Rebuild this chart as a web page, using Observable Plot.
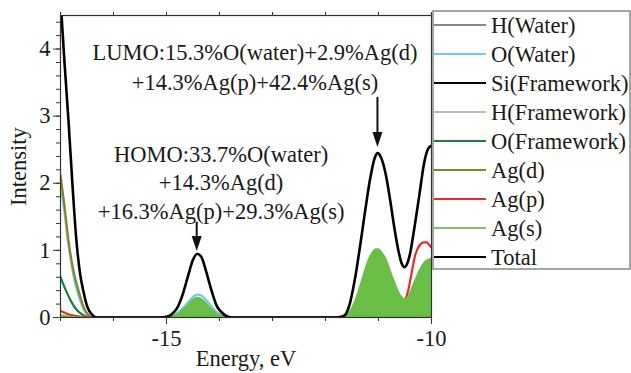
<!DOCTYPE html>
<html>
<head>
<meta charset="utf-8">
<script src="https://cdn.jsdelivr.net/npm/d3@7"></script>
<script src="https://cdn.jsdelivr.net/npm/@observablehq/plot@0.6"></script>
<style>
  html, body { margin: 0; padding: 0; background: #fff; }
  #chart { width: 631px; height: 373px; overflow: hidden; }
</style>
</head>
<body>
<div id="chart"></div>
<script>
// ---------------- data ----------------
const seriesNames = ["H(Water)", "O(Water)", "Si(Framework)", "H(Framework)", "O(Framework)", "Ag(d)", "Ag(p)", "Ag(s)", "Total"];

const hWaterE = [-17, -16.5, -10];            const hWater = [0, 0, 0];
const siFrameE = [-17, -16.5, -10];           const siFrame = [0, 0, 0];
const hFrameE = [-17, -16.5, -10];            const hFrame = [0, 0, 0];

const oWaterE = [-17.0, -16.93, -16.85, -16.75, -16.66, -16.55, -16.45, -16.35,
  -15.05, -14.95, -14.85, -14.75, -14.65, -14.55, -14.48, -14.42, -14.35, -14.25, -14.15, -14.05, -13.95, -13.85, -13.8,
  -11.7, -11.3, -11.02, -10.75, -10.5, -10.2, -10.0];
const oWater = [2.0, 1.6, 1.08, 0.6, 0.33, 0.1, 0.02, 0,
  0, 0.012, 0.035, 0.095, 0.175, 0.265, 0.32, 0.34, 0.33, 0.26, 0.165, 0.08, 0.03, 0.006, 0,
  0, 0.2, 0.37, 0.25, 0.1, 0.3, 0.35];

const oFrameE = [-17.0, -16.95, -16.88, -16.8, -16.7, -16.6, -16.5, -16.42, -10.0];
const oFrame = [0.6, 0.5, 0.37, 0.24, 0.12, 0.05, 0.01, 0, 0];

const agDE = [-17.0, -16.93, -16.85, -16.75, -16.66, -16.55, -16.45, -16.38,
  -15.0, -14.7, -14.42, -14.15, -13.85, -11.7, -11.0, -10.5, -10.0];
const agD = [2.12, 1.7, 1.15, 0.68, 0.4, 0.13, 0.02, 0,
  0, 0.05, 0.13, 0.05, 0, 0, 0.07, 0.03, 0.05];

const agPE = [-17.0, -16.92, -16.82, -16.7, -16.55, -16.45,
  -15.0, -14.7, -14.42, -14.15, -13.85,
  -11.8, -11.5, -11.2, -11.0, -10.8, -10.6, -10.5, -10.44, -10.39, -10.30, -10.22, -10.15, -10.09, -10.04, -10.0];
const agP = [0.1, 0.07, 0.04, 0.02, 0.005, 0,
  0, 0.06, 0.15, 0.06, 0,
  0, 0.08, 0.2, 0.25, 0.22, 0.22, 0.27, 0.4, 0.6, 0.95, 1.08, 1.12, 1.12, 1.08, 1.04];

const agSE = [-17.0, -16.9, -16.8, -16.7, -16.55, -16.45,
  -15.05, -14.95, -14.85, -14.75, -14.65, -14.55, -14.48, -14.42, -14.35, -14.25, -14.15, -14.05, -13.95, -13.85, -13.8,
  -11.8, -11.7, -11.62, -11.52, -11.42, -11.30, -11.17, -11.02, -10.86, -10.70, -10.59, -10.50, -10.43, -10.36, -10.28, -10.20, -10.10, -10.0];
const agS = [0.04, 0.03, 0.02, 0.01, 0.003, 0,
  0, 0.01, 0.03, 0.08, 0.15, 0.23, 0.28, 0.30, 0.29, 0.23, 0.14, 0.07, 0.025, 0.005, 0,
  0, 0.01, 0.03, 0.12, 0.3, 0.6, 0.9, 1.03, 0.9, 0.57, 0.36, 0.28, 0.33, 0.47, 0.62, 0.75, 0.85, 0.88];

const totalE = [-17.0, -16.98, -16.92, -16.85, -16.78, -16.70, -16.63, -16.57, -16.49, -16.40, -16.32,
  -15.1, -15.0, -14.9, -14.8, -14.7, -14.6, -14.5, -14.42, -14.34, -14.25, -14.15, -14.05, -13.95, -13.85, -13.75,
  -11.8, -11.7, -11.64, -11.55, -11.45, -11.35, -11.25, -11.15, -11.07, -11.02, -10.95, -10.86, -10.78, -10.70,
  -10.62, -10.56, -10.51, -10.46, -10.40, -10.33, -10.23, -10.14, -10.06, -10.0];
const total = [4.8, 4.5, 3.75, 2.94, 2.05, 1.15, 0.65, 0.4, 0.15, 0.04, 0,
  0, 0.01, 0.05, 0.14, 0.33, 0.6, 0.86, 0.95, 0.9, 0.68, 0.4, 0.17, 0.07, 0.015, 0,
  0, 0.01, 0.03, 0.18, 0.55, 1.05, 1.6, 2.1, 2.38, 2.45, 2.38, 2.12, 1.75, 1.33,
  0.98, 0.8, 0.75, 0.8, 0.97, 1.3, 1.82, 2.3, 2.52, 2.56];

// axis ticks
const xMajorTicks = [-15, -10];
const xMinorTicks = [-17, -16, -15, -14, -13, -12, -11, -10];
const yMajorTicks = [0, 1, 2, 3, 4];
const yMinorTicks = [0, 0.2, 0.4, 0.6, 0.8, 1, 1.2, 1.4, 1.6, 1.8, 2, 2.2, 2.4, 2.6, 2.8, 3, 3.2, 3.4, 3.6, 3.8, 4, 4.2, 4.4];

// annotations
const noteText = ["LUMO:15.3%O(water)+2.9%Ag(d)", "+14.3%Ag(p)+42.4%Ag(s)",
  "HOMO:33.7%O(water)", "+14.3%Ag(d)", "+16.3%Ag(p)+29.3%Ag(s)"];
const noteX = [-13.33, -13.33, -13.97, -13.97, -13.97];
const noteY = [3.95, 3.49, 2.42, 2.0, 1.58];
const arrowX = [-14.43, -11.02];
const arrowFrom = [1.42, 3.28];
const arrowTo = [0.99, 2.54];

// ---------------- styles ----------------
const colors = {
  "H(Water)": "#111", "O(Water)": "#6fcbe6", "Si(Framework)": "#000", "H(Framework)": "#777",
  "O(Framework)": "#17803c", "Ag(d)": "#858526", "Ag(p)": "#ec2a22", "Ag(s)": "#7dc55c", "Total": "#000"
};
const widths = {
  "H(Water)": 1, "O(Water)": 2.2, "Si(Framework)": 2.2, "H(Framework)": 1,
  "O(Framework)": 2.2, "Ag(d)": 2.2, "Ag(p)": 2.2, "Ag(s)": 2.2, "Total": 2.6
};
const agSFill = "#6bbe45";
const font = "'Liberation Serif', 'Times New Roman', serif";

const toRows = (E, V) => E.map((e, i) => ({e, v: V[i]}));
const line = (name, E, V) => Plot.line(toRows(E, V), {
  x: "e", y: "v", stroke: colors[name], strokeWidth: widths[name], curve: "monotone-x", clip: true
});

const headSymbol = {
  draw(ctx) { ctx.moveTo(0, 0); ctx.lineTo(-5, -15); ctx.lineTo(5, -15); ctx.closePath(); }
};
const arrows = arrowX.map((x, i) => ({x, y1: arrowFrom[i], y2: arrowTo[i]}));
const notes = noteText.map((t, i) => ({t, x: noteX[i], y: noteY[i]}));

const chart = Plot.plot({
  width: 631, height: 373,
  marginLeft: 60, marginRight: 200, marginTop: 15, marginBottom: 56,
  style: {fontFamily: font, fontSize: "22.5px", color: "#1a1a1a", background: "#fff"},
  x: {domain: [-17, -10], label: null},
  y: {domain: [0, 4.5], label: null},
  marks: [
    line("H(Water)", hWaterE, hWater),
    line("O(Water)", oWaterE, oWater),
    line("Si(Framework)", siFrameE, siFrame),
    line("H(Framework)", hFrameE, hFrame),
    line("O(Framework)", oFrameE, oFrame),
    line("Ag(d)", agDE, agD),
    line("Ag(p)", agPE, agP),
    Plot.areaY(toRows(agSE, agS), {x: "e", y: "v", fill: agSFill, curve: "monotone-x", clip: true}),
    line("Total", totalE, total),
    Plot.frame({stroke: "#333", strokeWidth: 1.2}),
    Plot.axisX({ticks: xMinorTicks, tickSize: 4, tickFormat: () => "", label: null, stroke: "#333"}),
    Plot.axisX({anchor: "top", ticks: xMinorTicks, tickSize: 4, tickFormat: () => "", label: null, stroke: "#333"}),
    Plot.axisX({ticks: xMajorTicks, tickSize: 7, tickPadding: 6, tickFormat: d => String(d), label: null, stroke: "#333"}),
    Plot.axisY({ticks: yMinorTicks, tickSize: 4, tickFormat: () => "", label: null, stroke: "#333"}),
    Plot.axisY({ticks: yMajorTicks, tickSize: 7, tickPadding: 3, tickFormat: d => String(d), label: null, stroke: "#333"}),
    Plot.ruleX(arrows, {x: "x", y1: "y1", y2: d => d.y2 + 0.1, stroke: "#111", strokeWidth: 2}),
    Plot.dot(arrows, {x: "x", y: "y2", symbol: headSymbol, r: 5, fill: "#111", stroke: null}),
    Plot.text(notes, {x: "x", y: "y", text: "t", textAnchor: "middle", lineAnchor: "middle", fill: "#1a1a1a"}),
    Plot.text(["Intensity"], {frameAnchor: "left", dx: -42, rotate: -90, textAnchor: "middle", lineAnchor: "middle", fill: "#1a1a1a"}),
    Plot.text(["Energy, eV"], {frameAnchor: "bottom", dy: 41, textAnchor: "middle", lineAnchor: "middle", fill: "#1a1a1a"})
  ]
});

// legend box on the right
const svg = d3.select(chart);
const lg = svg.append("g").attr("font-family", font).attr("font-size", 22.5).attr("text-anchor", "start");
lg.append("rect").attr("x", 433).attr("y", 11).attr("width", 197).attr("height", 258)
  .attr("fill", "#fff").attr("stroke", "#888").attr("stroke-width", 1.5);
seriesNames.forEach((name, i) => {
  const y = 25 + i * 29;
  lg.append("line").attr("x1", 434).attr("x2", 486).attr("y1", y).attr("y2", y)
    .attr("stroke", colors[name]).attr("stroke-width", Math.min(widths[name], 2.2));
  lg.append("text").attr("x", 491).attr("y", y).attr("dy", "0.35em").attr("text-anchor", "start")
    .attr("fill", "#1a1a1a").text(name);
});

document.getElementById("chart").appendChild(chart);
</script>
</body>
</html>
